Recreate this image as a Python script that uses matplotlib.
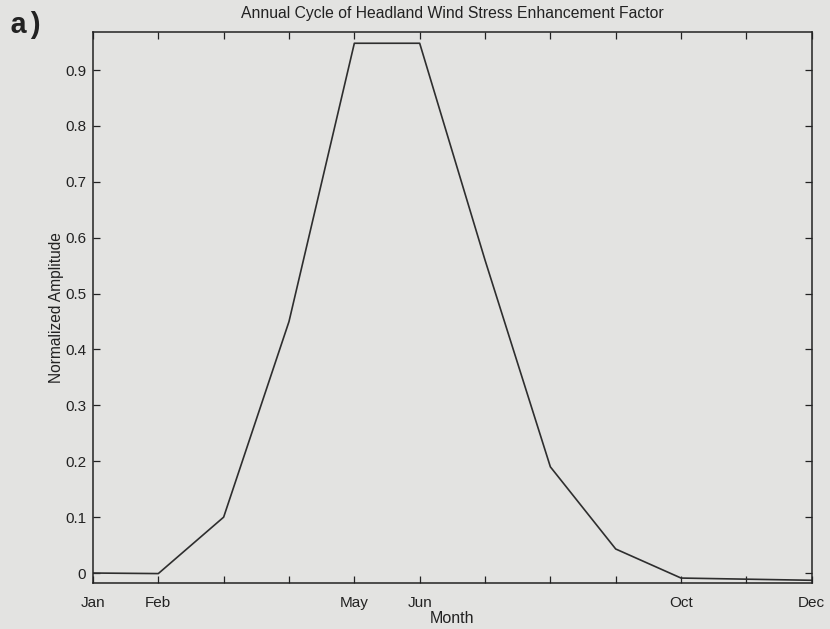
import matplotlib
matplotlib.use("Agg")
import matplotlib.pyplot as plt

# monthly enhancement factor (normalized)
months = ["Jan", "Feb", "Mar", "Apr", "May", "Jun", "Jul", "Aug", "Sep", "Oct", "Nov", "Dec"]
amplitude = [0.0, -0.001, 0.1, 0.45, 0.948, 0.948, 0.56, 0.19, 0.043, -0.009, -0.011, -0.013]
shown_labels = ["Jan", "Feb", "May", "Jun", "Oct", "Dec"]

plt.rcParams["font.family"] = ["Liberation Sans", "DejaVu Sans"]
bg = "#e3e3e1"
ink = "#222222"

fig = plt.figure(figsize=(8.3, 6.29), dpi=100, facecolor=bg)
ax = fig.add_axes([0.112, 0.073, 0.866, 0.876], facecolor=bg)

x = list(range(len(months)))
ax.plot(x, amplitude, color="#2e2e2e", lw=1.2)

ax.set_xlim(0, len(months) - 1)
ax.set_ylim(-0.018, 0.968)
ax.set_xticks(x)
ax.set_xticklabels([m if m in shown_labels else "" for m in months])
ax.set_yticks([i / 10 for i in range(10)])
ax.set_yticklabels(["0"] + ["%.1f" % (i / 10) for i in range(1, 10)])
ax.tick_params(direction="in", length=5, width=0.9, labelsize=11, colors=ink,
               top=True, right=True, pad=5)
ax.tick_params(axis="x", pad=9)
for s in ax.spines.values():
    s.set_color(ink)
    s.set_linewidth(1.1)

ax.set_title("Annual Cycle of Headland Wind Stress Enhancement Factor", fontsize=11.3, pad=10, color=ink)
ax.set_xlabel("Month", fontsize=11.5, labelpad=1, color=ink)
ax.set_ylabel("Normalized Amplitude", fontsize=11.2, labelpad=1, color=ink)

fig.text(0.012, 0.948, "a)", fontsize=21, fontweight="bold", family="Liberation Mono", color=ink)

fig.savefig("out.png", dpi=100, facecolor=bg)
